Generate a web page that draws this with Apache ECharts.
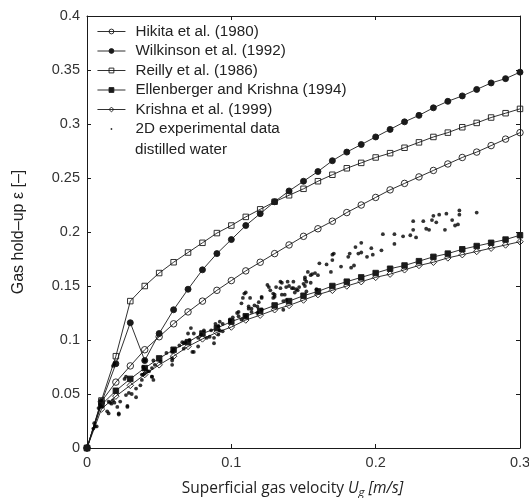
<!DOCTYPE html>
<html>
<head>
<meta charset="utf-8">
<script src="https://cdn.jsdelivr.net/npm/echarts@6/dist/echarts.min.js"></script>
<style>
  html, body { margin: 0; padding: 0; background: #fff; }
  #chart { width: 529px; height: 498px; }
</style>
</head>
<body>
<div id="chart"></div>
<script>
// Superficial gas velocity (m/s) at which each correlation is evaluated
const ugCurve = [0, 0.01, 0.02, 0.03, 0.04, 0.05, 0.06, 0.07, 0.08, 0.09, 0.10,
  0.11, 0.12, 0.13, 0.14, 0.15, 0.16, 0.17, 0.18, 0.19, 0.20,
  0.21, 0.22, 0.23, 0.24, 0.25, 0.26, 0.27, 0.28, 0.29, 0.30];

// Gas hold-up predicted by each correlation
const hikita1980 = [0, 0.043, 0.061, 0.076, 0.091, 0.103, 0.115, 0.126, 0.136, 0.146, 0.155,
  0.164, 0.172, 0.180, 0.188, 0.196, 0.203, 0.210, 0.218, 0.225, 0.232,
  0.239, 0.245, 0.251, 0.257, 0.263, 0.269, 0.274, 0.280, 0.286, 0.292];
const wilkinson1992 = [0, 0.042, 0.078, 0.116, 0.081, 0.106, 0.128, 0.147, 0.165, 0.180, 0.193,
  0.206, 0.217, 0.228, 0.238, 0.247, 0.256, 0.266, 0.274, 0.281, 0.288,
  0.295, 0.302, 0.308, 0.315, 0.321, 0.326, 0.332, 0.338, 0.342, 0.348];
const reilly1986 = [0, 0.044, 0.085, 0.136, 0.150, 0.162, 0.172, 0.181, 0.190, 0.199, 0.206,
  0.214, 0.221, 0.228, 0.234, 0.240, 0.247, 0.253, 0.259, 0.264, 0.269,
  0.273, 0.278, 0.283, 0.288, 0.292, 0.297, 0.301, 0.306, 0.310, 0.314];
const ellenberger1994 = [0, 0.040, 0.053, 0.064, 0.074, 0.083, 0.091, 0.098, 0.106, 0.111, 0.117,
  0.122, 0.127, 0.132, 0.136, 0.141, 0.145, 0.150, 0.154, 0.158, 0.162,
  0.166, 0.169, 0.173, 0.177, 0.180, 0.184, 0.187, 0.190, 0.193, 0.197];
const krishna1999 = [0, 0.036, 0.048, 0.058, 0.068, 0.077, 0.085, 0.094, 0.101, 0.107, 0.112,
  0.1185, 0.123, 0.128, 0.132, 0.137, 0.142, 0.146, 0.150, 0.154, 0.158,
  0.161, 0.165, 0.169, 0.172, 0.176, 0.179, 0.182, 0.185, 0.188, 0.191];

// Measured hold-up in the 2D column, distilled water: [Ug, eps]
const experimental2D = [
  [0.270,0.218],[0.258,0.220],[0.258,0.216],[0.249,0.217],[0.244,0.216],[0.240,0.215],
  [0.242,0.209],[0.239,0.211],[0.235,0.203],[0.237,0.202],[0.248,0.202],[0.253,0.211],
  [0.257,0.207],[0.255,0.206],[0.233,0.210],[0.226,0.210],[0.226,0.202],[0.224,0.197],
  [0.228,0.195],[0.219,0.196],[0.213,0.198],[0.205,0.198],[0.213,0.189],[0.204,0.183],
  [0.197,0.185],[0.190,0.190],[0.186,0.186],[0.190,0.181],[0.188,0.180],[0.182,0.180],
  [0.181,0.177],[0.194,0.177],[0.198,0.179],[0.183,0.167],[0.185,0.169],[0.176,0.168],
  [0.171,0.180],[0.170,0.174],[0.169,0.163],[0.170,0.179],[0.166,0.170],[0.158,0.162],
  [0.155,0.160],[0.151,0.156],[0.147,0.149],[0.139,0.154],[0.134,0.154],[0.110,0.144],
  [0.144,0.144],[0.161,0.171],[0.160,0.160],[0.156,0.161],[0.153,0.163],[0.151,0.158],
  [0.150,0.152],[0.145,0.147],[0.143,0.148],[0.138,0.149],[0.135,0.153],[0.134,0.148],
  [0.135,0.142],[0.138,0.137],[0.136,0.136],[0.130,0.142],[0.129,0.139],[0.126,0.149],
  [0.121,0.139],[0.116,0.132],[0.114,0.129],[0.114,0.126],[0.142,0.148],[0.146,0.146],
  [0.151,0.150],[0.152,0.154],[0.155,0.153],[0.137,0.142],[0.130,0.140],[0.129,0.143],
  [0.121,0.140],[0.119,0.135],[0.118,0.131],[0.118,0.125],[0.112,0.131],[0.109,0.143],
  [0.108,0.139],[0.104,0.125],[0.105,0.122],[0.101,0.121],[0.099,0.117],[0.107,0.119],
  [0.110,0.122],[0.094,0.115],[0.092,0.117],[0.091,0.113],[0.089,0.115],[0.086,0.109],
  [0.092,0.109],[0.094,0.108],[0.091,0.105],[0.085,0.103],[0.081,0.109],[0.079,0.105],
  [0.077,0.102],[0.074,0.106],[0.072,0.111],[0.071,0.100],[0.068,0.098],[0.067,0.097],
  [0.064,0.095],[0.060,0.091],[0.059,0.089],[0.088,0.097],[0.073,0.089],[0.059,0.077],
  [0.059,0.081],[0.112,0.129],[0.113,0.139],[0.107,0.134],[0.105,0.126],[0.136,0.128],
  [0.131,0.149],[0.125,0.151],[0.152,0.145],[0.159,0.147],[0.121,0.128],[0.143,0.154],
  [0.127,0.146],[0.140,0.150],[0.099,0.119],[0.088,0.102],[0.083,0.102],[0.070,0.106],
  [0.066,0.098],[0.055,0.088],[0.051,0.080],[0.046,0.081],[0.040,0.081],[0.039,0.075],
  [0.042,0.071],[0.045,0.066],[0.038,0.068],[0.059,0.083],[0.074,0.089],[0.067,0.092],
  [0.077,0.094],[0.0097,0.044],[0.009,0.040],[0.010,0.038],[0.008,0.037],[0.0067,0.020],
  [0.005,0.023],[0.0044,0.018],[0.015,0.043],[0.014,0.034],[0.017,0.041],[0.019,0.042],
  [0.022,0.031],[0.021,0.038],[0.028,0.039],[0.027,0.049],[0.029,0.051],[0.031,0.050],
  [0.034,0.047],[0.034,0.055],[0.037,0.058],[0.038,0.063],[0.039,0.068],[0.026,0.064],
  [0.027,0.066],[0.019,0.078],[0.018,0.076],[0.040,0.069],[0.043,0.071],[0.045,0.074],
  [0.046,0.063],[0.045,0.066],[0.047,0.077],[0.040,0.073],[0.015,0.032],[0.022,0.032],
  [0.023,0.043],[0.018,0.044],[0.016,0.042],[0.0055,0.020],[0.028,0.038]
];

const xTicks = { min: 0, max: 0.3, interval: 0.1 };
const yTicks = { min: 0, max: 0.4, interval: 0.05 };

const names = {
  hikita: 'Hikita et al. (1980)',
  wilkinson: 'Wilkinson et al. (1992)',
  reilly: 'Reilly et al. (1986)',
  ellenberger: 'Ellenberger and Krishna (1994)',
  krishna: 'Krishna et al. (1999)',
  exp: '2D experimental data'
};

const ink = '#1a1a1a';
const sansFont = '"Liberation Sans", Arial, sans-serif';
const titleFont = '"Open Sans", sans-serif';

function pairs(values) {
  return ugCurve.map((u, i) => [u, values[i]]);
}

function curve(name, values, symbol, filled, size) {
  return {
    name: name,
    type: 'line',
    data: pairs(values),
    symbol: symbol,
    symbolSize: size,
    showAllSymbol: true,
    lineStyle: { color: ink, width: 0.9 },
    itemStyle: {
      color: filled ? ink : 'rgba(255,255,255,0)',
      borderColor: ink,
      borderWidth: 0.9
    },
    emphasis: { disabled: true },
    z: 2
  };
}

const axisCommon = {
  type: 'value',
  splitLine: { show: false },
  axisLine: { show: true, onZero: false, lineStyle: { color: ink, width: 1 } },
  axisTick: { show: true, inside: true, length: 4, lineStyle: { color: ink } }
};

const chart = echarts.init(document.getElementById('chart'), null, { renderer: 'canvas' });

chart.setOption({
  animation: false,
  backgroundColor: '#fff',
  grid: { left: 87, right: 9, top: 16, bottom: 50, containLabel: false, outerBoundsMode: 'none' },
  xAxis: [
    Object.assign({}, axisCommon, xTicks, {
      position: 'bottom',
      axisLabel: { margin: 7, fontSize: 14.5, color: '#333', fontFamily: sansFont },
      name: 'Superficial gas velocity {i|U}{s|g} {i|[m/s]}',
      nameLocation: 'middle',
      nameGap: 30,
      nameTextStyle: {
        fontFamily: titleFont,
        fontSize: 15.5,
        color: '#222',
        padding: [0, 22, 0, 0],
        rich: {
          i: { fontFamily: titleFont, fontStyle: 'italic', fontSize: 15.5, color: '#222' },
          s: { fontFamily: titleFont, fontStyle: 'italic', fontSize: 11.5, color: '#222', padding: [9, 0, 0, 0] }
        }
      }
    }),
    Object.assign({}, axisCommon, xTicks, {
      position: 'top',
      axisLabel: { show: false }
    })
  ],
  yAxis: [
    Object.assign({}, axisCommon, yTicks, {
      position: 'left',
      axisLabel: { margin: 7, fontSize: 14.5, color: '#333', fontFamily: sansFont },
      name: 'Gas hold\u2013up \u03b5 [\u2013]',
      nameLocation: 'middle',
      nameGap: 60,
      nameTextStyle: { fontFamily: sansFont, fontSize: 16, color: '#222' }
    }),
    Object.assign({}, axisCommon, yTicks, {
      position: 'right',
      axisLabel: { show: false }
    })
  ],
  legend: {
    orient: 'vertical',
    left: 97,
    top: 24,
    padding: 0,
    itemWidth: 28,
    itemHeight: 6,
    itemGap: 4.5,
    selectedMode: false,
    lineStyle: { width: 0.9 },
    itemStyle: { borderWidth: 0.9 },
    textStyle: { fontFamily: sansFont, fontSize: 15.2, color: '#222', padding: [0, 0, 0, 5] },
    data: [
      names.hikita, names.wilkinson, names.reilly, names.ellenberger, names.krishna,
      { name: names.exp, icon: 'path://M0 0M12 12M6 4.2A1.8 1.8 0 1 1 5.99 4.2Z' }
    ]
  },
  graphic: [{
    type: 'text',
    left: 135,
    top: 142,
    style: { text: 'distilled water', fontFamily: sansFont, fontSize: 15.2, fill: '#222' }
  }],
  series: [
    curve(names.hikita, hikita1980, 'circle', false, 6.5),
    curve(names.wilkinson, wilkinson1992, 'circle', true, 6),
    curve(names.reilly, reilly1986, 'rect', false, 5.5),
    curve(names.ellenberger, ellenberger1994, 'rect', true, 5.5),
    curve(names.krishna, krishna1999, 'diamond', false, 6.5),
    {
      name: names.exp,
      type: 'scatter',
      data: experimental2D,
      symbol: 'circle',
      symbolSize: 3.8,
      itemStyle: { color: '#000' },
      emphasis: { disabled: true },
      z: 3
    }
  ]
});
</script>
</body>
</html>
